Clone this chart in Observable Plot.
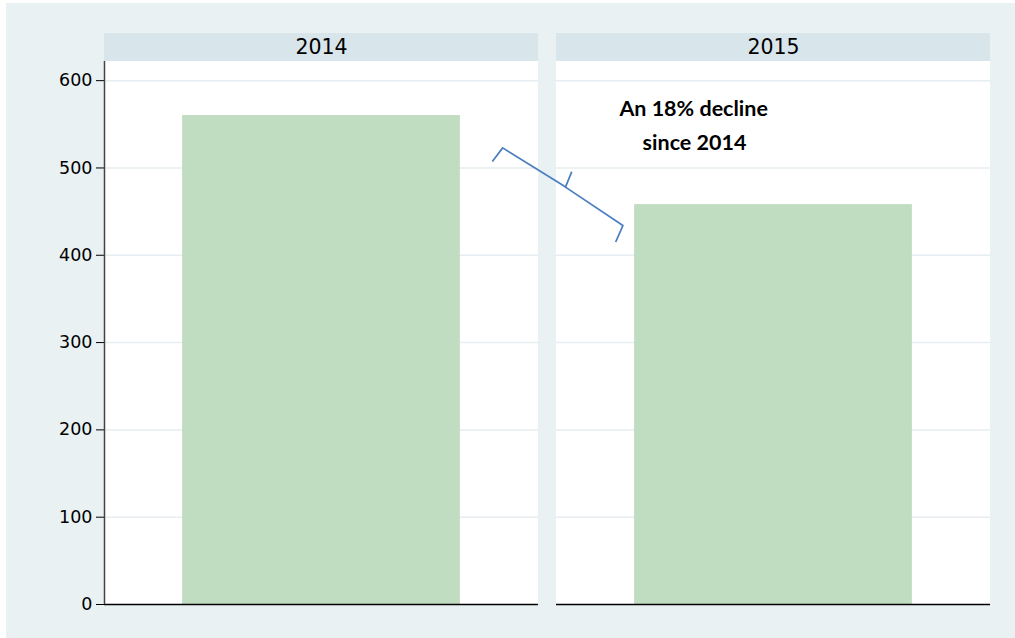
<!DOCTYPE html>
<html>
<head>
<meta charset="utf-8">
<script src="https://cdn.jsdelivr.net/npm/d3@7"></script>
<script src="https://cdn.jsdelivr.net/npm/@observablehq/plot@0.6"></script>
<style>
  html, body { margin: 0; padding: 0; background: #ffffff; }
  #frame { position: absolute; left: 6px; top: 3px; width: 1009px; height: 635px; background: #e9f1f3; }
  #frame svg { display: block; }
</style>
</head>
<body>
<div id="frame"></div>
<script>
// ---- data ----
const years = ["2014", "2015"];
const counts = [560, 458];
const yTicks = [0, 100, 200, 300, 400, 500, 600];
const noteLines = ["An 18% decline", "since 2014"];
const noteY = [567, 528];
const noteX = [0.316, 0.318];
// brace annotation (drawn in the 2015 panel, x as fraction of panel width, y in data units)
const braceX = [-0.147, -0.124, 0.0138, 0.0207, 0.0345, 0.0207, 0.153, 0.137];
const braceY = [508, 523, 480.5, 478, 495, 478, 434, 416];

// ---- tables ----
const bars = years.map((year, i) => ({year, count: counts[i]}));
const notes = noteLines.map((text, i) => ({year: "2015", text, x: noteX[i], y: noteY[i]}));
const brace = braceX.map((x, i) => ({year: "2015", x, y: braceY[i]}));

const PANEL_TOP = 622;
const STRIP_TOP = 654;

const chart = Plot.plot({
  width: 1009,
  height: 635,
  marginLeft: 97.5,
  marginRight: 24,
  marginTop: 30,
  marginBottom: 34,
  style: {background: "transparent", fontFamily: "DejaVu Sans, sans-serif", fontSize: "17.5px", color: "#000"},
  fx: {domain: years, paddingInner: 0.0389, paddingOuter: 0, axis: null},
  x: {domain: [0, 1], axis: null},
  y: {domain: [0, STRIP_TOP], ticks: yTicks, tickSize: 8, tickPadding: 4, label: null, tickFormat: d => String(d)},
  marks: [
    // white panel backgrounds
    Plot.rect(years, {fx: d => d, x1: 0, x2: 1, y1: 0, y2: PANEL_TOP, fill: "#ffffff"}),
    // header strips
    Plot.rect(years, {fx: d => d, x1: 0, x2: 1, y1: PANEL_TOP, y2: STRIP_TOP, fill: "#d8e5eb"}),
    Plot.text(years, {fx: d => d, x: 0.5, y: (PANEL_TOP + STRIP_TOP) / 2, text: d => d, fontSize: 20.5, fill: "#000"}),
    // gridlines
    Plot.ruleY(yTicks.filter(d => d > 0), {stroke: "#e6eef1", strokeWidth: 1.5}),
    // bars
    Plot.rectY(bars, {fx: "year", x1: 0.18, x2: 0.82, y: "count", fill: "#c0dcc1"}),
    // baseline
    Plot.ruleY([0], {stroke: "#000", strokeWidth: 1.5}),
    // left axis line (first panel only)
    Plot.ruleX(years.slice(0, 1), {fx: d => d, x: 0, y1: 0, y2: PANEL_TOP, stroke: "#444", strokeWidth: 1.5}),
    // annotation text
    Plot.text(notes, {fx: "year", x: "x", y: "y", text: "text", fontFamily: "Lato, sans-serif", fontWeight: "bold", fontSize: 21.5, fill: "#000"}),
    // brace
    Plot.line(brace, {fx: "year", x: "x", y: "y", stroke: "#4a7ec0", strokeWidth: 1.7, strokeLinejoin: "round", curve: "linear"})
  ]
});
document.getElementById("frame").appendChild(chart);
</script>
</body>
</html>
